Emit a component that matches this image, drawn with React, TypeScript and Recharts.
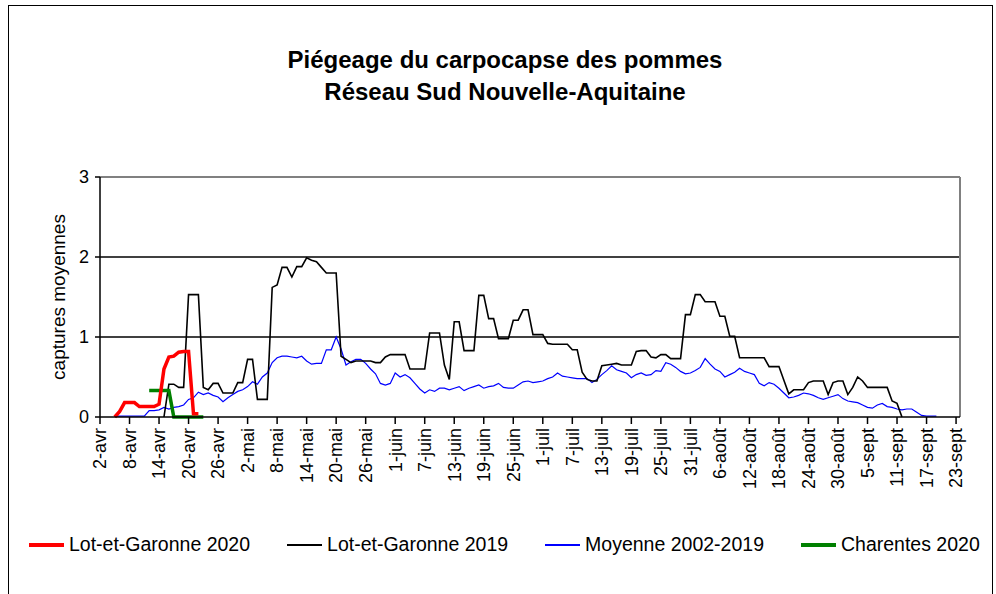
import { LineChart, Line, XAxis, YAxis, CartesianGrid, ReferenceLine, Legend, Label } from 'recharts';

// axis ticks every 6 days, starting 2 April
const tickLabels = [
  '2-avr', '8-avr', '14-avr', '20-avr', '26-avr', '2-mai', '8-mai', '14-mai', '20-mai', '26-mai',
  '1-juin', '7-juin', '13-juin', '19-juin', '25-juin', '1-juil', '7-juil', '13-juil', '19-juil', '25-juil',
  '31-juil', '6-août', '12-août', '18-août', '24-août', '30-août', '5-sept', '11-sept', '17-sept', '23-sept',
];
const tickDays = tickLabels.map((_, i) => i * 6);
const yTicks = [0, 1, 2, 3];

// each series: first day index (0 = 2-avr) + daily values
const lg2020Start = 3;
const lg2020 = [0, 0.07, 0.18, 0.18, 0.18, 0.13, 0.13, 0.13, 0.13, 0.16, 0.6, 0.75, 0.76, 0.81, 0.82, 0.82, 0.04, 0.04];

const lg2019Start = 13;
const lg2019 = [
  0, 0.41, 0.41, 0.37, 0.37, 1.53, 1.53, 1.53, 0.37, 0.34, 0.42, 0.42, 0.3, 0.3, 0.3, 0.43, 0.43,
  0.72, 0.72, 0.22, 0.22, 0.22, 1.62, 1.65, 1.87, 1.87, 1.75, 1.88, 1.88, 1.99, 1.96, 1.94, 1.87,
  1.8, 1.8, 1.8, 0.76, 0.72, 0.68, 0.7, 0.7, 0.7, 0.7, 0.68, 0.68, 0.75, 0.78, 0.78, 0.78, 0.78,
  0.6, 0.6, 0.6, 0.6, 1.05, 1.05, 1.05, 0.65, 0.47, 1.19, 1.19, 0.83, 0.83, 0.83, 1.52, 1.52,
  1.23, 1.23, 0.98, 0.98, 0.98, 1.21, 1.21, 1.34, 1.34, 1.03, 1.03, 1.03, 0.92, 0.91, 0.91, 0.91,
  0.91, 0.84, 0.84, 0.56, 0.47, 0.45, 0.45, 0.64, 0.65, 0.66, 0.67, 0.65, 0.65, 0.65, 0.82, 0.83,
  0.83, 0.75, 0.74, 0.78, 0.78, 0.73, 0.73, 0.73, 1.28, 1.28, 1.53, 1.53, 1.44, 1.44, 1.44, 1.26,
  1.26, 1.01, 1.01, 0.74, 0.74, 0.74, 0.74, 0.74, 0.74, 0.63, 0.63, 0.63, 0.46, 0.29, 0.34, 0.34,
  0.34, 0.43, 0.45, 0.45, 0.45, 0.28, 0.43, 0.45, 0.45, 0.28, 0.37, 0.5, 0.45, 0.37, 0.37, 0.37,
  0.37, 0.37, 0.2, 0.17, 0,
];

const moyStart = 3;
const moyenne = [
  0.01, 0.01, 0.01, 0.01, 0.01, 0.01, 0.01, 0.08, 0.08, 0.09, 0.12, 0.1, 0.12, 0.13, 0.15, 0.22,
  0.24, 0.31, 0.28, 0.3, 0.27, 0.25, 0.19, 0.24, 0.28, 0.32, 0.34, 0.38, 0.44, 0.41, 0.5, 0.55,
  0.68, 0.74, 0.76, 0.76, 0.75, 0.74, 0.76, 0.7, 0.66, 0.67, 0.67, 0.84, 0.84, 1.0, 0.85, 0.65,
  0.69, 0.72, 0.72, 0.67, 0.6, 0.54, 0.42, 0.4, 0.42, 0.55, 0.5, 0.53, 0.49, 0.42, 0.35, 0.3,
  0.34, 0.32, 0.36, 0.36, 0.34, 0.36, 0.38, 0.33, 0.36, 0.38, 0.4, 0.36, 0.38, 0.39, 0.42, 0.37,
  0.36, 0.36, 0.4, 0.44, 0.45, 0.43, 0.44, 0.45, 0.48, 0.5, 0.55, 0.51, 0.5, 0.49, 0.48, 0.48,
  0.48, 0.43, 0.47, 0.53, 0.58, 0.64, 0.59, 0.57, 0.55, 0.49, 0.53, 0.55, 0.52, 0.53, 0.58, 0.57,
  0.68, 0.66, 0.62, 0.57, 0.54, 0.55, 0.58, 0.62, 0.73, 0.66, 0.6, 0.57, 0.5, 0.53, 0.56, 0.61,
  0.57, 0.55, 0.53, 0.42, 0.39, 0.43, 0.41, 0.36, 0.3, 0.24, 0.25, 0.27, 0.3, 0.29, 0.27, 0.24,
  0.22, 0.24, 0.26, 0.28, 0.23, 0.2, 0.19, 0.18, 0.15, 0.12, 0.11, 0.15, 0.17, 0.13, 0.12, 0.1,
  0.09, 0.1, 0.1, 0.06, 0.02, 0.01, 0.01, 0.01,
];

const ch2020Start = 10;
const ch2020 = [0.33, 0.33, 0.33, 0.33, 0.33, 0, 0, 0, 0, 0, 0, 0];

const X_MAX = 174.8;
const FONT = '"Liberation Sans", Arial, sans-serif';

const pick = (arr: number[], start: number, day: number) => {
  const v = arr[day - start];
  return v === undefined ? null : v;
};

const data = Array.from({ length: 175 }, (_, day) => ({
  day,
  lg2020: pick(lg2020, lg2020Start, day),
  lg2019: pick(lg2019, lg2019Start, day),
  moyenne: pick(moyenne, moyStart, day),
  ch2020: pick(ch2020, ch2020Start, day),
}));

const legendItems = [
  { label: 'Lot-et-Garonne 2020', color: '#ff0000', h: 4 },
  { label: 'Lot-et-Garonne 2019', color: '#000000', h: 2 },
  { label: 'Moyenne 2002-2019', color: '#0000ff', h: 2 },
  { label: 'Charentes 2020', color: '#008000', h: 4 },
];

function XTick(props: any) {
  const { x, y, payload } = props;
  const label = tickLabels[Math.round(payload.value / 6)];
  return (
    <g transform={`translate(${x},${y})`}>
      <text transform="rotate(-90)" textAnchor="end" dy="0.35em" fontSize={18} fontFamily={FONT} fill="#000">
        {label}
      </text>
    </g>
  );
}

function CustomLegend() {
  return (
    <div style={{ display: 'flex', alignItems: 'center', paddingLeft: 29, fontFamily: FONT, fontSize: 19.5, color: '#000', whiteSpace: 'nowrap' }}>
      {legendItems.map((it) => (
        <div key={it.label} style={{ display: 'flex', alignItems: 'center', marginRight: 37, flexShrink: 0 }}>
          <span style={{ display: 'inline-block', width: 35, height: it.h, background: it.color, marginRight: 5 }} />
          <span>{it.label}</span>
        </div>
      ))}
    </div>
  );
}

export default function App() {
  return (
    <div style={{ position: 'absolute', left: 0, top: 0, width: 996, height: 594, background: '#fff', overflow: 'hidden' }}>
      <div style={{ position: 'absolute', left: 8, top: 5, width: 983, height: 700, border: '1px solid #000' }} />
      <div style={{ position: 'absolute', left: 0, top: 44, width: 1010, textAlign: 'center', fontFamily: FONT, fontWeight: 'bold', fontSize: 24, lineHeight: '32px', color: '#000' }}>
        <div>Piégeage du carpocapse des pommes</div>
        <div>Réseau Sud Nouvelle-Aquitaine</div>
      </div>
      <div style={{ position: 'absolute', left: 0, top: 0 }}>
        <LineChart width={996} height={594} data={data} margin={{ top: 177, right: 36, bottom: 87, left: 60 }}>
          <CartesianGrid vertical={false} horizontalValues={[1, 2]} stroke="#000" strokeWidth={1.5} />
          <ReferenceLine y={3} stroke="#808080" strokeWidth={2} />
          <ReferenceLine x={X_MAX} stroke="#808080" strokeWidth={2} />
          <XAxis
            dataKey="day"
            type="number"
            domain={[0, X_MAX]}
            ticks={tickDays}
            interval={0}
            height={90}
            tickSize={7}
            tickMargin={4}
            tick={<XTick />}
            axisLine={{ stroke: '#000', strokeWidth: 1.5 }}
            tickLine={{ stroke: '#000', strokeWidth: 1.5 }}
            allowDataOverflow
          />
          <YAxis
            type="number"
            domain={[0, 3]}
            ticks={yTicks}
            width={40}
            tickSize={5}
            tickMargin={6}
            tick={{ fill: '#000', fontSize: 18, fontFamily: FONT }}
            axisLine={{ stroke: '#000', strokeWidth: 1.5 }}
            tickLine={{ stroke: '#000', strokeWidth: 1.5 }}
          >
            <Label
              content={(p: any) => {
                const vb = p.viewBox || { x: 60, y: 177, width: 40, height: 240 };
                const cx = vb.x - 2;
                const cy = vb.y + vb.height / 2;
                return (
                  <text x={cx} y={cy} transform={`rotate(-90, ${cx}, ${cy})`} textAnchor="middle" dy="0.35em" fontSize={19} fontFamily={FONT} fill="#000">
                    captures moyennes
                  </text>
                );
              }}
            />
          </YAxis>
          <Legend verticalAlign="middle" align="center" layout="horizontal" wrapperStyle={{ top: 533, left: 0, width: 996 }} content={<CustomLegend />} />
          <Line dataKey="moyenne" name="Moyenne 2002-2019" stroke="#0000ff" strokeWidth={1.2} dot={false} isAnimationActive={false} />
          <Line dataKey="lg2019" name="Lot-et-Garonne 2019" stroke="#000000" strokeWidth={1.6} dot={false} isAnimationActive={false} />
          <Line dataKey="ch2020" name="Charentes 2020" stroke="#008000" strokeWidth={3.5} dot={false} isAnimationActive={false} />
          <Line dataKey="lg2020" name="Lot-et-Garonne 2020" stroke="#ff0000" strokeWidth={3.5} dot={false} isAnimationActive={false} />
        </LineChart>
      </div>
    </div>
  );
}
